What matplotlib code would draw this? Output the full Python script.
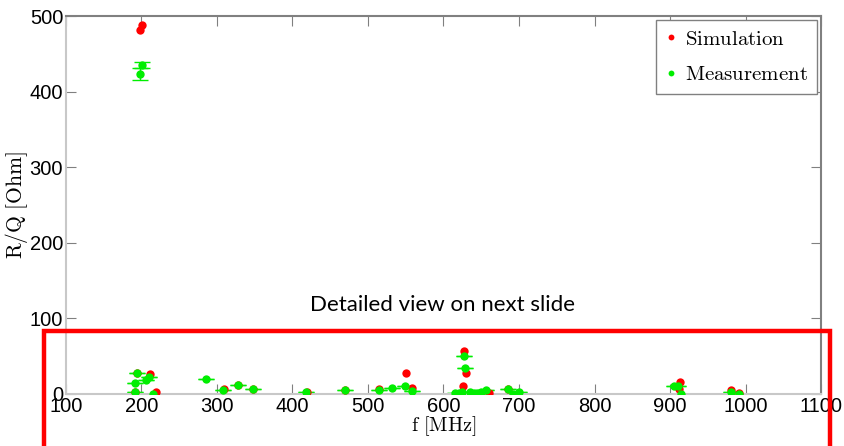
import matplotlib
matplotlib.use('Agg')
import matplotlib.pyplot as plt
from matplotlib.patches import Rectangle

plt.rcParams['font.family'] = ['Liberation Sans', 'DejaVu Sans']
plt.rcParams['mathtext.fontset'] = 'cm'

# simulation (red)
sim_f = [197.9, 200.9, 193.5, 191, 211, 219, 310, 328, 348, 419, 470, 515,
         549.7, 558.6, 627.8, 630, 625.6, 660, 685, 913, 912, 980.5, 991.5]
sim_rq = [481, 487.7, 27.5, 2.5, 26.5, 3, 6.2, 12, 6.8, 3, 5.5, 6,
          26.9, 7.5, 56.9, 27.3, 9.7, 0.5, 6.5, 15.9, 6.2, 5.3, 0.5]

# measurement (green)
meas_f = [198, 201.4, 193.5, 192, 191, 206.7, 209.8, 215, 286, 308, 328, 348,
          418, 470, 515, 531.6, 548.4, 558.6, 626.5, 628.7, 615, 620, 625,
          635, 640, 645, 650, 656.5, 685, 692, 699.6, 905.6, 910, 915,
          980.5, 991.5]
meas_rq = [423, 434.7, 27.3, 14, 2.2, 18.5, 21.6, 0.4, 19.8, 4.4, 11.9, 6.6,
           1.8, 5.3, 5.7, 7.5, 9.7, 3.5, 50.7, 34.8, 0.5, 1, 2, 2.5, 1.5,
           1, 2, 5.3, 6.2, 0, 1.8, 10.6, 9.7, 0, 3, 0]
meas_ferr = [0, 0, 6, 5, 5, 5, 6, 6, 5, 5, 4, 0,
             0, 0, 0, 0, 5, 0, 4, 4, 4, 4, 4,
             4, 4, 4, 4, 4, 4, 4, 4, 6, 4, 4,
             5, 4]
meas_rqerr = [8, 4, 0, 0, 0, 0, 0, 0, 0, 0, 0, 0,
              0, 0, 0, 0, 0, 0, 0, 0, 0, 0, 0,
              0, 0, 0, 0, 0, 0, 0, 0, 0, 0, 0,
              0, 0]

fig = plt.figure(figsize=(8.45, 4.46), dpi=100)
ax = fig.add_axes([0.078, 0.117, 0.8937, 0.847])

ax.errorbar(meas_f, meas_rq, xerr=meas_ferr, fmt='none',
            ecolor='#00ee00', elinewidth=1, capsize=0, zorder=2)
ax.errorbar(meas_f, meas_rq, yerr=meas_rqerr, fmt='none',
            ecolor='#00ee00', elinewidth=1, capsize=6, zorder=2)
ax.plot(sim_f, sim_rq, 'o', color='#ff0000', ms=6, mec='none', zorder=3,
        label='Simulation')
ax.plot(meas_f, meas_rq, 'o', color='#00ee00', ms=6, mec='none', zorder=4,
        label='Measurement')

ax.set_xlim(100, 1100)
ax.set_ylim(0, 500)
ax.set_xticks(range(100, 1101, 100))
ax.set_yticks(range(0, 501, 100))
ax.tick_params(direction='in', length=7, color='#808080', labelsize=14.5,
               top=True, right=True, pad=2)
for s in ['top', 'right']:
    ax.spines[s].set_color('#808080')
ax.spines['left'].set_color('#c8c8c8')
ax.spines['bottom'].set_color('#c8c8c8')
for s in ax.spines.values():
    s.set_linewidth(1.5)

ax.set_xlabel(r'$\mathrm{f\ [MHz]}$', fontsize=14.5, labelpad=-1)
ax.set_ylabel(r'$\mathrm{R/Q\ [Ohm]}$', fontsize=15.5, labelpad=0)

leg = ax.legend(loc='upper right', markerscale=0.7,
                handlelength=0.5, handletextpad=0.4, labelspacing=0.8,
                borderaxespad=0.2, borderpad=0.45, fancybox=False,
                framealpha=1, prop={'size': 15})
leg.get_frame().set_edgecolor('#808080')
leg.get_frame().set_linewidth(1)
for t in leg.get_texts():
    t.set_text(r'$\mathrm{' + t.get_text() + '}$')

fig.text(0.524, 0.316, 'Detailed view on next slide', fontsize=16,
         family='Lato', ha='center', va='center')
fig.patches.append(Rectangle((0.052, -0.1), 0.930, 0.358,
                             transform=fig.transFigure, fill=False,
                             edgecolor='#ff0000', linewidth=3.2, zorder=10))

plt.savefig('out.png', dpi=100)
